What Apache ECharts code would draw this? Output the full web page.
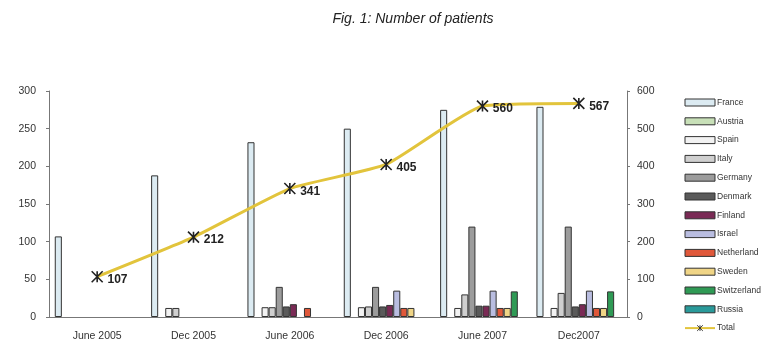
<!DOCTYPE html>
<html>
<head>
<meta charset="utf-8">
<script src="https://cdn.jsdelivr.net/npm/echarts@6/dist/echarts.min.js"></script>
<style>
    body { margin: 0; background: #fff; }
    #chart { width: 781px; height: 348px; }
</style>
</head>
<body>
<div id="chart"></div>
<script>
var periods = ['June 2005', 'Dec 2005', 'June 2006', 'Dec 2006', 'June 2007', 'Dec2007'];

var france      = [107, 188, 232, 250, 275, 279];
var austria     = [0, 0, 0, 0, 0, 0];
var spain       = [0, 12, 13, 13, 12, 12];
var italy       = [0, 12, 13, 14, 30, 32];
var germany     = [0, 0, 40, 40, 120, 120];
var denmark     = [0, 0, 14, 14, 15, 14];
var finland     = [0, 0, 17, 16, 15, 17];
var israel      = [0, 0, 0, 35, 35, 35];
var netherland  = [0, 0, 12, 12, 12, 12];
var sweden      = [0, 0, 0, 12, 12, 12];
var switzerland = [0, 0, 0, 0, 34, 34];
var russia      = [0, 0, 0, 0, 0, 0];
var total       = [107, 212, 341, 405, 560, 567];

var countries = ['France', 'Austria', 'Spain', 'Italy', 'Germany', 'Denmark', 'Finland',
    'Israel', 'Netherland', 'Sweden', 'Switzerland', 'Russia'];
var countryData = [france, austria, spain, italy, germany, denmark, finland,
    israel, netherland, sweden, switzerland, russia];
var countryColors = ['#dcebf2', '#c8e0b8', '#f2f2f2', '#cfcfcf', '#9c9c9c', '#5a5a5a',
    '#7a2a55', '#b9bde0', '#e0583a', '#f0d586', '#2f9a55', '#2a9a9a'];

var starPath = 'path://M0 0L10 10M10 0L0 10M5 0L5 10';

function init() {
    var chart = echarts.init(document.getElementById('chart'));

    var series = [];
    for (var i = 0; i < countries.length; i++) {
        series.push({
            name: countries[i],
            type: 'bar',
            yAxisIndex: 0,
            barGap: 0,
            barCategoryGap: '12%',
            // zero bars would leave a border line on the axis, excel draws nothing
            data: countryData[i].map(function (v) { return v === 0 ? '-' : v; }),
            itemStyle: { color: countryColors[i], borderColor: '#333', borderWidth: 1 }
        });
    }
    series.push({
        name: 'Total',
        type: 'line',
        yAxisIndex: 1,
        data: total,
        smooth: 0.15,
        symbol: starPath,
        symbolSize: 11,
        itemStyle: { color: '#e2c43c', borderColor: '#222', borderWidth: 1.6 },
        lineStyle: { color: '#e2c43c', width: 3 },
        label: {
            show: true,
            position: 'right',
            distance: 4,
            offset: [0, 3],
            fontFamily: 'Liberation Sans',
            fontWeight: 'bold',
            fontSize: 12,
            color: '#222'
        },
        z: 5
    });

    var legendData = countries.map(function (c) { return { name: c, icon: 'rect' }; });
    legendData.push({ name: 'Total' });

    var axisText = { fontFamily: 'Liberation Sans', fontSize: 10.5, color: '#333' };

    chart.setOption({
        animation: false,
        title: {
            text: 'Fig. 1: Number of patients',
            left: 408,
            top: 7,
            textAlign: 'center',
            textStyle: { fontFamily: 'Liberation Sans', fontStyle: 'italic', fontWeight: 'normal', fontSize: 14, color: '#222' }
        },
        legend: {
            orient: 'vertical',
            left: 684,
            top: 98,
            padding: 0,
            itemWidth: 30,
            itemHeight: 7,
            itemGap: 9.8,
            itemStyle: { borderColor: '#333', borderWidth: 1 },
            textStyle: { fontFamily: 'Liberation Sans', fontSize: 8.5, lineHeight: 9, color: '#333', padding: [0, 0, 0, -3] },
            data: legendData
        },
        grid: { left: 49, right: 154, top: 91, bottom: 31 },
        xAxis: {
            type: 'category',
            data: periods,
            axisLine: { lineStyle: { color: '#777' } },
            axisTick: { lineStyle: { color: '#777' }, length: 3 },
            axisLabel: Object.assign({ margin: 14 }, axisText)
        },
        yAxis: [{
            type: 'value',
            min: 0,
            max: 300,
            interval: 50,
            splitLine: { show: false },
            axisLine: { show: true, lineStyle: { color: '#777' } },
            axisTick: { show: true, length: 3, lineStyle: { color: '#777' } },
            axisLabel: Object.assign({ margin: 13 }, axisText)
        }, {
            type: 'value',
            min: 0,
            max: 600,
            interval: 100,
            splitLine: { show: false },
            axisLine: { show: true, lineStyle: { color: '#777' } },
            axisTick: { show: true, length: 3, lineStyle: { color: '#777' } },
            axisLabel: Object.assign({ margin: 10 }, axisText)
        }],
        series: series
    });
}

window.addEventListener('load', init, false);
</script>
</body>
</html>
